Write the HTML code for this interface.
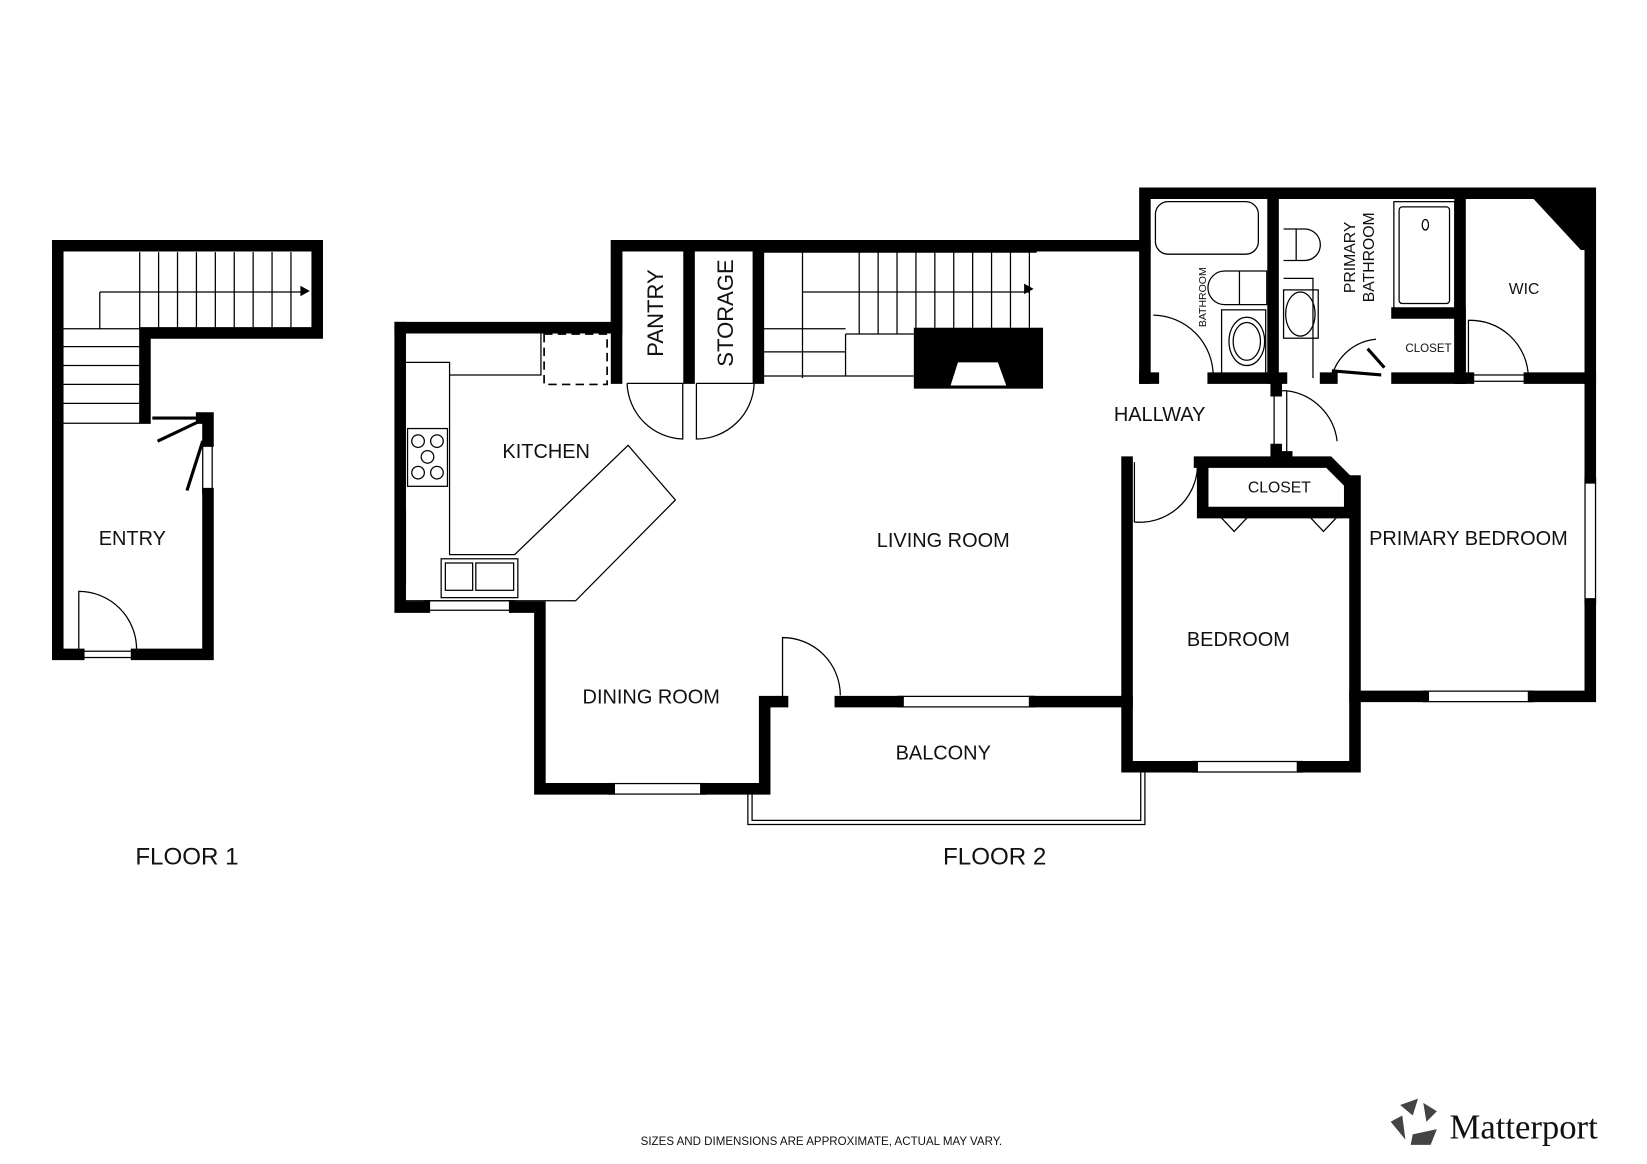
<!DOCTYPE html>
<html><head><meta charset="utf-8"><style>
html,body{margin:0;padding:0;background:#fff}
svg{display:block}
text{font-family:"Liberation Sans",sans-serif;fill:#111}
</style></head><body>
<svg width="1647" height="1164" viewBox="0 0 1568 1108.2" preserveAspectRatio="none" xmlns="http://www.w3.org/2000/svg">
<rect width="1568" height="1109" fill="#fff"/>
<g stroke="#000" stroke-width="11" fill="none" stroke-linecap="square">
<path d="M55 234 H302 V317 H138 V398"/>
<path d="M55 234 V623 H75"/>
<path d="M130 623 H198 V470"/>
<path d="M198 420 V398 H192"/>
<path d="M381 312 V578 H404"/>
<path d="M381 312 H587 V234 H1090"/>
<path d="M490 578 H514 V751 H580"/>
<path d="M672 751 H728 V668 H745"/>
<path d="M800 668 H855"/>
<path d="M985 668 H1073"/>
<path d="M587 234 V360"/>
<path d="M656 240 V360"/>
<path d="M722 240 V360"/>
<path d="M1090 360 V184 H1514 V455"/>
<path d="M1514 575 V663 H1460"/>
<path d="M1355 663 H1290 V730 H1240"/>
<path d="M1135 730 H1073 V440"/>
<path d="M1142 440 H1265 L1285 460 V488 H1145 V445"/>
<path d="M1290 458 V663"/>
<path d="M1212 184 V360"/>
<path d="M1390 184 V360"/>
<path d="M1215 367 V372"/>
<path d="M1215 428 V435 H1225"/>
<path d="M1090 360 H1098"/>
<path d="M1155 360 H1220"/>
<path d="M1262 360 H1268"/>
<path d="M1330 360 H1398"/>
<path d="M1456 360 H1514"/>
<path d="M1330 298 H1390 V360"/>
</g>
<polygon points="1455,184 1519,184 1519,238 1505,238" fill="#000"/>
<rect x="870" y="312" width="123" height="58" fill="#000"/>
<polygon points="905,367 958,367 950,345 912,345" fill="#fff"/>
<g stroke="#000" stroke-width="1.2" fill="none">
<path d="M60 313 H133 M60 330 H133 M60 348 H133 M60 366 H133 M60 384 H133 M60 403 H133"/>
<path d="M95 278 V313 M95 278 H292"/>
<path d="M133 240 V313 M151 240 V313 M169 240 V313 M187 240 V313 M205 240 V313 M223 240 V313 M241 240 V313 M259 240 V313 M277 240 V313"/>
<path d="M75 623 V563 A55 55 0 0 1 130 618"/>
<path d="M145 398 H190 M150 420 L188 402" stroke-width="3"/>
<path d="M193 420 L178 467" stroke-width="3"/>
<rect x="193" y="420" width="9" height="50"/>
<rect x="145" y="620" width="33" height="6"/>
<rect x="75" y="620" width="55" height="6"/>
<path d="M727 240 H987 M764 240 V360"/>
<path d="M764 278 H980 M727 313 H805 M727 335 H805 M727 358 H870 M805 318 V358 M805 318 H870"/>
<path d="M818 240 V318 M836 240 V318 M854 240 V318 M872 240 V312 M890 240 V312 M908 240 V312 M926 240 V312 M944 240 V312 M962 240 V312 M980 240 V312"/>
<path d="M386 345 H428 V528 H490 L598 424 L643 476 L548 572 H386"/>
<path d="M428 357 H515 V312"/>
<rect x="518" y="318" width="60" height="48" stroke-dasharray="8 5" stroke-width="1.6"/>
<rect x="388" y="408" width="38" height="55"/>
<circle cx="398" cy="420" r="6"/><circle cx="416" cy="420" r="6"/><circle cx="407" cy="435" r="6"/><circle cx="398" cy="450" r="6"/><circle cx="416" cy="450" r="6"/>
<rect x="420" y="532" width="73" height="37"/><rect x="424" y="536" width="26" height="26"/><rect x="453" y="536" width="36" height="26"/>
<rect x="377" y="485" width="9" height="70"/>
<rect x="404" y="572" width="86" height="9"/>
<path d="M597 365 H650 V418 A55 55 0 0 1 597 365"/>
<path d="M663 365 H718 A55 55 0 0 1 663 418 V365"/>
<path d="M745 668 V607 A55 55 0 0 1 800 662"/>
<rect x="580" y="746" width="92" height="10"/>
<rect x="855" y="663" width="130" height="10"/>
<path d="M712 751 V785 H1090 V735 M716 751 V781 H1086 V735"/>
<rect x="1100" y="192" width="98" height="50" rx="12"/>
<path d="M1098 300 A58 58 0 0 1 1155 358"/>
<path d="M1166 258 H1206 V290 H1166 A16 16 0 0 1 1166 258 M1180 258 V290"/>
<rect x="1163" y="295" width="42" height="62"/>
<ellipse cx="1187" cy="325" rx="17" ry="23"/><ellipse cx="1187" cy="325" rx="13" ry="18"/>
<path d="M1222 218 H1242 A15 15 0 0 1 1242 248 H1222 M1234 218 V248"/>
<path d="M1222 265 H1250 V360"/>
<rect x="1222" y="276" width="33" height="46"/><ellipse cx="1238" cy="299" rx="14" ry="21"/>
<rect x="1327" y="192" width="58" height="103"/><rect x="1332" y="197" width="48" height="92" rx="3"/>
<ellipse cx="1357" cy="214" rx="3" ry="5"/>
<path d="M1268 358 A48 48 0 0 1 1310 323"/>
<path d="M1268 353 L1315 357 M1302 332 L1318 350" stroke-width="3"/>
<path d="M1398 358 V305 A55 55 0 0 1 1455 358"/>
<rect x="1396" y="357" width="60" height="6"/>
<path d="M1215 372 H1225 V430 M1225 372 A55 55 0 0 1 1273 420 M1213 372 V428"/>
<path d="M1080 440 V497 A55 55 0 0 0 1140 445"/>
<path d="M1160 490 L1175 506 L1190 490 M1245 490 L1260 506 L1275 490"/>
<rect x="1135" y="725" width="105" height="10"/>
<rect x="1355" y="658" width="105" height="10"/>
<rect x="1509" y="455" width="10" height="120"/>
</g>
<path d="M286 272 L295 277 L286 282Z M975 270 L984 275 L975 280Z" fill="#000"/>
<g font-size="19" text-anchor="middle">
<text x="126" y="519">ENTRY</text>
<text x="520" y="436">KITCHEN</text>
<text x="898" y="521">LIVING ROOM</text>
<text x="620" y="670">DINING ROOM</text>
<text x="898" y="723">BALCONY</text>
<text x="1104" y="401">HALLWAY</text>
<text x="1179" y="615">BEDROOM</text>
<text x="1398" y="519">PRIMARY BEDROOM</text>
<text x="1451" y="280" font-size="15">WIC</text>
<text x="1218" y="469" font-size="15">CLOSET</text>
<text x="1360" y="335" font-size="11">CLOSET</text>
<text x="178" y="823" font-size="23">FLOOR 1</text>
<text x="947" y="823" font-size="23">FLOOR 2</text>
<text x="782" y="1090" font-size="11" fill="#555">SIZES AND DIMENSIONS ARE APPROXIMATE, ACTUAL MAY VARY.</text>
<text transform="translate(631,298) rotate(-90)" font-size="21">PANTRY</text>
<text transform="translate(698,298) rotate(-90)" font-size="21">STORAGE</text>
<text transform="translate(1148,283) rotate(-90)" font-size="10">BATHROOM</text>
<text transform="translate(1290,245) rotate(-90)" font-size="15">PRIMARY</text>
<text transform="translate(1308,245) rotate(-90)" font-size="15">BATHROOM</text>
</g>
<g fill="#444">
<polygon points="1333,1052 1350,1046 1345,1062"/>
<polygon points="1355,1050 1368,1058 1358,1068"/>
<polygon points="1324,1068 1335,1062 1338,1085"/>
<polygon points="1345,1080 1368,1075 1362,1090 1343,1090"/>
</g>
<text x="1380" y="1084" font-size="33" style="font-family:'Liberation Serif',serif">Matterport</text>
</svg>
</body></html>
